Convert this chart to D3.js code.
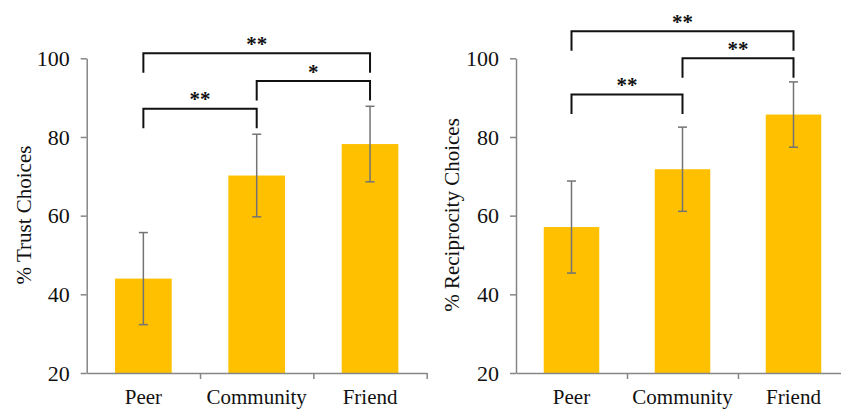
<!DOCTYPE html>
<html>
<head>
<meta charset="utf-8">
<script src="https://cdn.jsdelivr.net/npm/d3@7"></script>
<style>
  body { margin: 0; background: #fff; }
  text { font-family: "Liberation Serif", "Times New Roman", serif; fill: #111; }
</style>
</head>
<body>
<div id="chart"></div>
<script>
var svgWidth = 841;
var svgHeight = 409;

// categories and values
var categories = ["Peer", "Community", "Friend"];

var trustValues = [44.0, 70.2, 78.2];
var trustErrors = [11.7, 10.5, 9.6];

var reciprocityValues = [57.1, 71.8, 85.7];
var reciprocityErrors = [11.7, 10.7, 8.3];

var yTicks = [20, 40, 60, 80, 100];

// significance brackets: [from, to, label]
var trustSig = [[0, 2, "**"], [1, 2, "*"], [0, 1, "**"]];
var reciprocitySig = [[0, 2, "**"], [1, 2, "**"], [0, 1, "**"]];

var svg = d3.select("#chart")
  .append("svg")
  .attr("width", svgWidth)
  .attr("height", svgHeight);

svg.append("rect")
  .attr("width", svgWidth)
  .attr("height", svgHeight)
  .attr("fill", "#fff");

var axisColor = "#868686";

function drawPanel(opts) {
  var g = svg.append("g");

  var x = d3.scaleBand()
    .domain(categories)
    .range([opts.left, opts.right])
    .paddingInner(0.5)
    .paddingOuter(0.25);

  var y = d3.scaleLinear()
    .domain([20, 100])
    .range([373, 58.3]);

  // bars
  g.selectAll(".bar")
    .data(opts.values)
    .enter()
    .append("rect")
    .attr("class", "bar")
    .attr("x", (d, i) => x(categories[i]))
    .attr("width", x.bandwidth())
    .attr("y", d => y(d))
    .attr("height", d => y(20) - y(d))
    .attr("fill", "#FFC000");

  // error bars
  var eb = g.selectAll(".err")
    .data(opts.values)
    .enter()
    .append("g")
    .attr("class", "err")
    .attr("stroke", "#737373")
    .attr("stroke-width", 1.5);

  eb.append("line")
    .attr("x1", (d, i) => x(categories[i]) + x.bandwidth() / 2)
    .attr("x2", (d, i) => x(categories[i]) + x.bandwidth() / 2)
    .attr("y1", (d, i) => y(d + opts.errors[i]))
    .attr("y2", (d, i) => y(d - opts.errors[i]));

  [1, -1].forEach(function(sign) {
    eb.append("line")
      .attr("x1", (d, i) => x(categories[i]) + x.bandwidth() / 2 - 4.5)
      .attr("x2", (d, i) => x(categories[i]) + x.bandwidth() / 2 + 4.5)
      .attr("y1", (d, i) => y(d + sign * opts.errors[i]))
      .attr("y2", (d, i) => y(d + sign * opts.errors[i]));
  });

  // y axis
  var yAxis = g.append("g")
    .attr("transform", `translate(${opts.left}, 0)`)
    .call(d3.axisLeft(y).tickValues(yTicks).tickSize(6).tickSizeOuter(0).tickPadding(11));
  yAxis.select(".domain").attr("stroke", axisColor).attr("stroke-width", 1.5);
  yAxis.selectAll(".tick line").attr("stroke", axisColor).attr("stroke-width", 1.5);
  yAxis.selectAll(".tick text")
    .attr("font-family", "Liberation Serif, serif")
    .attr("font-size", 22)
    .attr("fill", "#111");

  // x axis: boundary ticks
  var xb = d3.scaleLinear().domain([0, categories.length]).range([opts.left, opts.right]);
  var xAxis = g.append("g")
    .attr("transform", `translate(0, ${y(20)})`)
    .call(d3.axisBottom(xb).tickValues([1, 2, 3]).tickSize(6).tickSizeOuter(0).tickFormat(""));
  xAxis.select(".domain").attr("stroke", axisColor).attr("stroke-width", 1.5);
  xAxis.selectAll(".tick line").attr("stroke", axisColor).attr("stroke-width", 1.5);

  // category labels
  var labels = g.append("g")
    .attr("transform", `translate(0, ${y(20)})`)
    .call(d3.axisBottom(x).tickSize(0).tickPadding(16));
  labels.select(".domain").remove();
  labels.selectAll(".tick text")
    .attr("font-family", "Liberation Serif, serif")
    .attr("font-size", 21)
    .attr("fill", "#111");

  // y title
  g.append("text")
    .attr("transform", `translate(${opts.titleX}, ${215}) rotate(-90)`)
    .attr("text-anchor", "middle")
    .attr("font-size", 21)
    .text(opts.title);

  // significance brackets
  opts.sig.forEach(function(s, k) {
    var xa = x(categories[s[0]]) + x.bandwidth() / 2;
    var xc = x(categories[s[1]]) + x.bandwidth() / 2;
    var yl = y(opts.levels[k]);
    g.append("path")
      .attr("d", `M${xa},${yl + 19.5}V${yl}H${xc}V${yl + 19.5}`)
      .attr("fill", "none")
      .attr("stroke", "#111")
      .attr("stroke-width", 2);
    g.append("text")
      .attr("x", (xa + xc) / 2)
      .attr("y", yl - 2.5)
      .attr("text-anchor", "middle")
      .attr("font-size", 21)
      .attr("font-weight", "bold")
      .text(s[2]);
  });
}

drawPanel({
  left: 86.7, right: 426.7,
  values: trustValues, errors: trustErrors,
  sig: trustSig, levels: [101.3, 94.2, 87.2],
  title: "% Trust Choices", titleX: 30.5
});

drawPanel({
  left: 516, right: 849,
  values: reciprocityValues, errors: reciprocityErrors,
  sig: reciprocitySig, levels: [106.9, 100.0, 90.8],
  title: "% Reciprocity Choices", titleX: 459
});
</script>
</body>
</html>
